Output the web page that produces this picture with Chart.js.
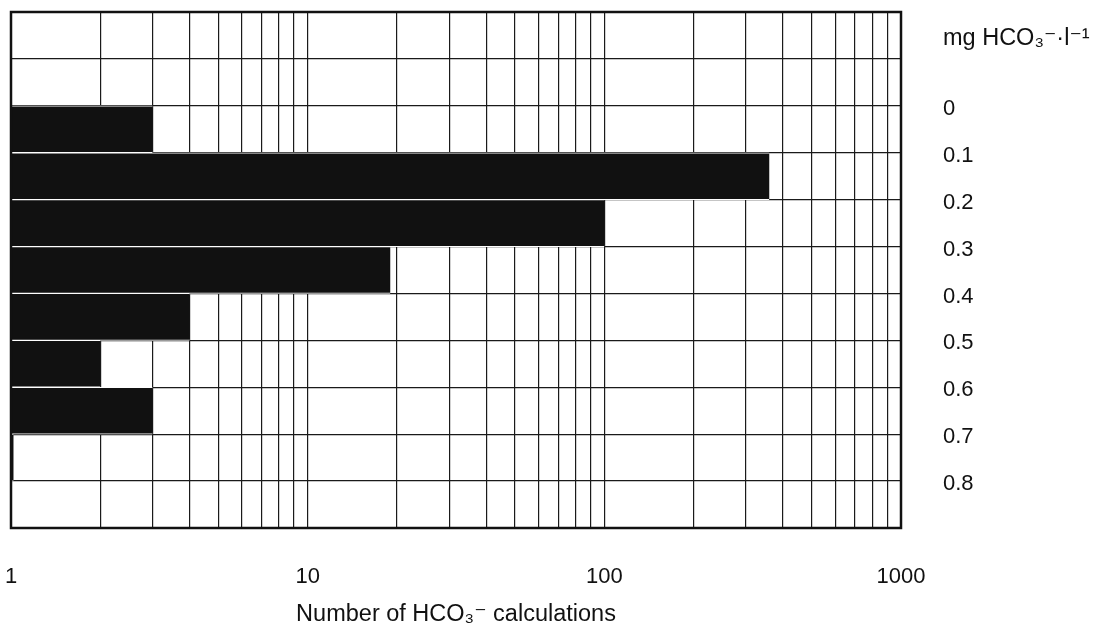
<!DOCTYPE html>
<html>
<head>
<meta charset="utf-8">
<script src="https://cdn.jsdelivr.net/npm/chart.js@4"></script>
<style>
  body { margin: 0; background: #fff; }
  #wrap { width: 1093px; height: 629px; }
</style>
</head>
<body>
<div id="wrap"><canvas id="hco3chart"></canvas></div>
<script>
// rows of the chart, top to bottom (first two rows are empty)
const binLabels = ['', ' ', '0-0.1', '0.1-0.2', '0.2-0.3', '0.3-0.4', '0.4-0.5', '0.5-0.6', '0.6-0.7', '0.7-0.8', '0.8-0.9'];
const counts = [null, null, 3, 360, 100, 19, 4, 2, 3, 1.02, null];

// labels on the right, at the bin edges
const edgeValues = [0, 0.1, 0.2, 0.3, 0.4, 0.5, 0.6, 0.7, 0.8];
const edgeLabels = ['0', '0.1', '0.2', '0.3', '0.4', '0.5', '0.6', '0.7', '0.8'];
const unitLabel = 'mg HCO\u2083\u207B\u00B7l\u207B\u00B9';

// x axis
const xTickLabels = ['1', '10', '100', '1000'];
const xTitle = 'Number of HCO\u2083\u207B calculations';

const FONT = "'Liberation Sans', 'DejaVu Sans', sans-serif";

const frame = {
    id: 'frame',
    afterDraw(chart) {
        const a = chart.chartArea;
        const ctx = chart.ctx;
        ctx.save();
        ctx.strokeStyle = '#111';
        ctx.lineWidth = 2.5;
        ctx.strokeRect(a.left, a.top, a.right - a.left, a.bottom - a.top);
        ctx.restore();
    }
};

var ctx = document.getElementById('hco3chart').getContext('2d');
var chart = new Chart(ctx, {
    type: 'bar',
    data: {
        labels: binLabels,
        datasets: [{
            data: counts,
            backgroundColor: '#111',
            borderColor: '#fff',
            borderWidth: { top: 1, bottom: 1, left: 0, right: 0 },
            borderSkipped: false,
            barPercentage: 1,
            categoryPercentage: 1,
        }],
    },
    options: {
        indexAxis: 'y',
        responsive: true,
        maintainAspectRatio: false,
        animation: false,
        layout: { autoPadding: false, padding: { left: 11, top: 12, right: 2, bottom: 0 } },
        plugins: {
            legend: { display: false },
            tooltip: { enabled: false },
        },
        scales: {
            x: {
                type: 'logarithmic',
                min: 1,
                max: 1000,
                afterBuildTicks: (scale) => {
                    const t = [];
                    for (let d = 1; d < 1000; d *= 10) {
                        for (let k = 1; k < 10; k++) t.push({ value: k * d });
                    }
                    t.push({ value: 1000 });
                    scale.ticks = t;
                },
                afterFit: (scale) => {
                    scale.height = 101;
                    scale.paddingLeft = 0;
                    scale.paddingRight = 0;
                },
                grid: { color: '#1a1a1a', lineWidth: 1.2, drawTicks: false },
                border: { display: false },
                ticks: {
                    autoSkip: false,
                    maxRotation: 0,
                    padding: 36,
                    color: '#111',
                    font: { family: FONT, size: 22 },
                    callback: (v) => xTickLabels.includes(String(v)) ? String(v) : '',
                },
                title: {
                    display: true,
                    text: xTitle,
                    color: '#111',
                    font: { family: FONT, size: 23.5 },
                    padding: { top: 5, bottom: 0 },
                },
            },
            y: {
                type: 'category',
                grid: { color: '#1a1a1a', lineWidth: 1.2, drawTicks: false },
                border: { display: false },
                ticks: { display: false },
                afterFit: (scale) => { scale.width = 0; },
            },
            yr: {
                type: 'linear',
                position: 'right',
                offset: false,
                min: -0.2,
                max: 0.9,
                reverse: true,
                grid: { display: false, drawTicks: false },
                border: { display: false },
                afterBuildTicks: (scale) => {
                    scale.ticks = [{ value: -0.15 }].concat(edgeValues.map(v => ({ value: v })));
                },
                afterFit: (scale) => {
                    scale.width = 190;
                    scale.paddingTop = 0;
                    scale.paddingBottom = 0;
                },
                ticks: {
                    padding: 42,
                    labelOffset: 3,
                    color: '#111',
                    font: (c) => ({ family: FONT, size: c.index === 0 ? 23.5 : 22 }),
                    callback: (v) => {
                        if (v < -0.1) return unitLabel;
                        const i = edgeValues.findIndex(e => Math.abs(e - v) < 1e-6);
                        return i >= 0 ? edgeLabels[i] : '';
                    },
                },
            },
        },
    },
    plugins: [frame],
});
</script>
</body>
</html>
